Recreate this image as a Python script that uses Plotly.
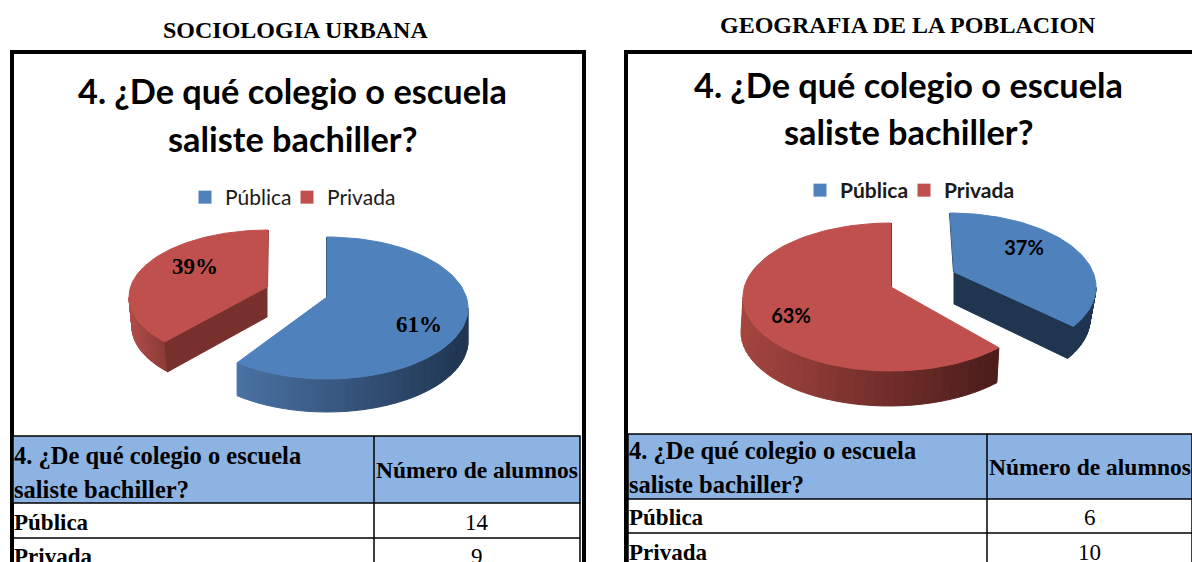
import math
import plotly.graph_objects as go

# ---- data ----
categories = ["Pública", "Privada"]
course_names = ["SOCIOLOGIA URBANA", "GEOGRAFIA DE LA POBLACION"]
question_lines = ["4. ¿De qué colegio o escuela", "saliste bachiller?"]
count_header = "Número de alumnos"
sociologia_share = [61, 39]
geografia_share = [37, 63]
sociologia_count = [14, 9]
geografia_count = [6, 10]

# ---- styles and layout (page pixels) ----
W, H = 1192, 562
BLUE, RED = "#4f81bd", "#c0504d"
HEAD = "#8db3e2"
SERIF = "Liberation Serif"
SANS = "Lato"

panels = [
    dict(share=sociologia_share, count=sociologia_count, name=course_names[0],
         name_xy=(295, 30), title_x=292, title_y=(90, 138), frame=(12, 52, 584),
         table=(13, 374, 580, 436, 503, 538), head_y=(455, 489), row_y=(522, 556),
         legend_x=(185, 287), legend_top=177, legend_bold=False, label_font=SERIF, label_size=23,
         label_xy=[(419, 326), (195, 268)],
         slices=[
             dict(c=(327, 308), r=(141, 71), apex=(327, 297), depth=33, trim=(0, 0), lean=0),
             dict(c=(268, 297), r=(139, 67), apex=(267, 287), depth=30, trim=(8.4, 0), lean=3),
         ],
         wall=[("#4a72a3", "#1f3550"), ("#b04c49", "#8a3a37")],
         radial=[None, ("start", "#78302d")]),
    dict(share=geografia_share, count=geografia_count, name=course_names[1],
         name_xy=(908, 25), title_x=908, title_y=(84, 131), frame=(626, 52, 1230),
         table=(628, 987, 1192, 434, 499, 533), head_y=(450, 484), row_y=(517, 552),
         legend_x=(800, 904), legend_top=170, legend_bold=True, label_font=SANS, label_size=20,
         label_xy=[(1024, 250), (791, 318)],
         slices=[
             dict(c=(950, 287), r=(146, 74), apex=(954, 272), depth=32, trim=(0, 11), lean=-6),
             dict(c=(891, 297), r=(148, 74), apex=(891, 287), depth=35, trim=(0, 0), lean=-2),
         ],
         wall=[("#1f3550", "#1f3550"), ("#a4453f", "#4a1c1a")],
         radial=[("end", "#1f3550"), None]),
]


def hex2rgb(h):
    return [int(h[i:i + 2], 16) for i in (1, 3, 5)]


def mix(a, b, t):
    ca, cb = hex2rgb(a), hex2rgb(b)
    return "rgb(%d,%d,%d)" % tuple(round(p + (q - p) * t) for p, q in zip(ca, cb))


def rim(s, deg):
    t = math.radians(deg)
    return s["c"][0] + s["r"][0] * math.sin(t), s["c"][1] - s["r"][1] * math.cos(t)


def poly(xs, ys, color, line=None):
    return go.Scatter(x=xs, y=ys, mode="lines", fill="toself", fillcolor=color,
                      line=dict(color=line or color, width=1), hoverinfo="skip", showlegend=False)


fig = go.Figure()
shapes, notes = [], []
legends = {}


def note(x, y, text, font, size, bold=False, anchor="center"):
    notes.append(dict(x=x, y=y, text=f"<b>{text}</b>" if bold else text, showarrow=False,
                      xanchor=anchor, yanchor="middle", xref="x", yref="y",
                      font=dict(family=font, size=size, color="#000000")))


for idx, p in enumerate(panels):
    # frame
    fx0, fy0, fx1 = p["frame"]
    shapes.append(dict(type="rect", x0=fx0, y0=fy0, x1=fx1, y1=H + 20,
                       line=dict(color="#000000", width=4), layer="below"))
    # slices
    start = 0.0
    for k, share in enumerate(p["share"]):
        s = p["slices"][k]
        a0 = start * 3.6 + s["trim"][0]
        a1 = (start + share) * 3.6 - s["trim"][1]
        start += share
        d, lean = s["depth"], s["lean"]
        # outer wall, shaded left (light) to right (dark)
        lo, hi = max(a0, 90), min(a1, 270)
        steps = 36
        x_a, x_b = rim(s, lo)[0], rim(s, hi)[0]
        for i in range(steps):
            t0 = lo + (hi - lo) * i / steps
            t1 = lo + (hi - lo) * (i + 1) / steps
            x0, y0 = rim(s, t0)
            x1, y1 = rim(s, t1)
            col = mix(p["wall"][k][0], p["wall"][k][1],
                      ((x0 + x1) / 2 - min(x_a, x_b)) / max(1, abs(x_a - x_b)))
            fig.add_trace(poly([x0, x1, x1 + lean, x0 + lean, x0], [y0, y1, y1 + d, y0 + d, y0], col))
        # cut face of the pulled slice
        if p["radial"][k]:
            side, col = p["radial"][k]
            ex, ey = rim(s, a0 if side == "start" else a1)
            ax, ay = s["apex"]
            fig.add_trace(poly([ax, ex, ex + lean, ax, ax], [ay, ey, ey + d, ay + d, ay], col))
        # dark sliver on the back edge
        tx, ty = rim(s, a0 if a0 == 0 else a1)
        fig.add_trace(go.Scatter(x=[tx, s["apex"][0]], y=[ty, s["apex"][1]], mode="lines",
                                 line=dict(color=p["wall"][k][1], width=2),
                                 hoverinfo="skip", showlegend=False))
        # top surface
        n = 90
        arc = [rim(s, a0 + (a1 - a0) * i / n) for i in range(n + 1)]
        xs = [s["apex"][0]] + [q[0] for q in arc] + [s["apex"][0]]
        ys = [s["apex"][1]] + [q[1] for q in arc] + [s["apex"][1]]
        fig.add_trace(poly(xs, ys, BLUE if k == 0 else RED))
    # percentage labels
    fig.add_trace(go.Scatter(
        x=[q[0] for q in p["label_xy"]], y=[q[1] for q in p["label_xy"]],
        mode="text", text=[f"<b>{v}%</b>" for v in p["share"]],
        textfont=dict(family=p["label_font"], size=p["label_size"], color="#000000"),
        textposition="middle center", hoverinfo="skip", showlegend=False))
    # legend entries: one small legend per entry so the tight spacing can be kept
    for k, cat in enumerate(categories):
        key = "legend" if idx == 0 and k == 0 else f"legend{idx * 2 + k + 1}"
        fig.add_trace(go.Scatter(x=[None], y=[None], mode="markers",
                                 name=f"<b>{cat}</b>" if p["legend_bold"] else cat,
                                 marker=dict(symbol="square", size=13, color=BLUE if k == 0 else RED),
                                 legend=key))
        legends[key] = dict(orientation="h", x=p["legend_x"][k] / W, y=1 - p["legend_top"] / H,
                            xanchor="left", yanchor="top", bgcolor="rgba(0,0,0,0)", itemwidth=30,
                            font=dict(family=SANS, size=21, color="#1a1a1a"),
                            itemclick=False, itemdoubleclick=False)
    # heading and chart title
    note(p["name_xy"][0], p["name_xy"][1], p["name"], SERIF, 24, bold=True)
    for line, y in zip(question_lines, p["title_y"]):
        note(p["title_x"], y, line, SANS, 34.3, bold=True)
    # table
    tx0, txm, tx1, ty0, ty1, ty2 = p["table"]
    shapes.append(dict(type="rect", x0=tx0, y0=ty0, x1=tx1, y1=ty1, fillcolor=HEAD,
                       line=dict(color="#000000", width=1.5), layer="below"))
    for seg in [(txm, ty0, txm, H + 5), (tx0, ty1, tx0, H + 5), (tx1, ty1, tx1, H + 5), (tx0, ty2, tx1, ty2)]:
        shapes.append(dict(type="line", x0=seg[0], y0=seg[1], x1=seg[2], y1=seg[3],
                           line=dict(color="#000000", width=1.5), layer="below"))
    for line, y in zip(question_lines, p["head_y"]):
        note(tx0 - 1, y, line, SERIF, 24.5, bold=True, anchor="left")
    note((txm + tx1) / 2, (ty0 + ty1) / 2, count_header, SERIF, 23.5, bold=True)
    for cat, val, y in zip(categories, p["count"], p["row_y"]):
        note(tx0 - 1, y, cat, SERIF, 23, bold=True, anchor="left")
        note((txm + tx1) / 2, y, str(val), SERIF, 23)


fig.update_layout(
    width=W, height=H, margin=dict(l=0, r=0, t=0, b=0, pad=0),
    paper_bgcolor="#ffffff", plot_bgcolor="#ffffff",
    xaxis=dict(range=[0, W], visible=False, fixedrange=True),
    yaxis=dict(range=[H, 0], visible=False, fixedrange=True),
    shapes=shapes, annotations=notes,
    showlegend=True,
    **legends,
)

fig.write_html("out.html", config=dict(displayModeBar=False),
               post_script="document.body.style.margin='0';")
